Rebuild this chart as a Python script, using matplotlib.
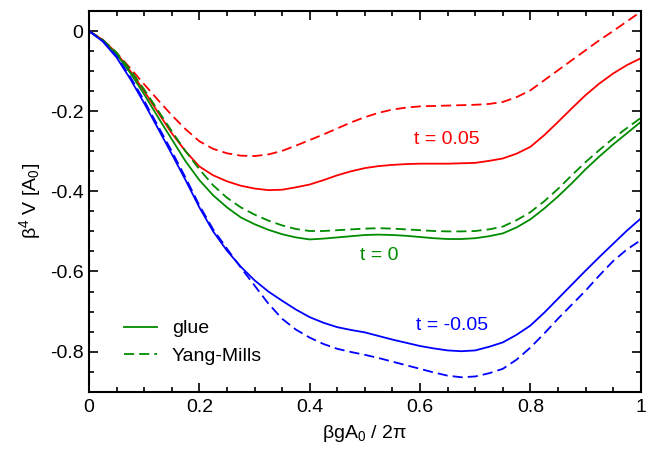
import matplotlib
matplotlib.use('Agg')
import matplotlib.pyplot as plt
from matplotlib.lines import Line2D
from matplotlib.ticker import MultipleLocator

plt.rcParams['font.family'] = ['Liberation Sans', 'DejaVu Sans']
plt.rcParams['mathtext.fontset'] = 'custom'
plt.rcParams['mathtext.rm'] = 'Liberation Sans'
plt.rcParams['mathtext.it'] = 'Liberation Sans:italic'
plt.rcParams['axes.unicode_minus'] = False

# x = beta g A0 / 2pi, read every 0.025
x = [0.0, 0.025, 0.05, 0.075, 0.1, 0.125, 0.15, 0.175, 0.2, 0.225,
     0.25, 0.275, 0.3, 0.325, 0.35, 0.375, 0.4, 0.425, 0.45, 0.475,
     0.5, 0.525, 0.55, 0.575, 0.6, 0.625, 0.65, 0.675, 0.7, 0.725,
     0.75, 0.775, 0.8, 0.825, 0.85, 0.875, 0.9, 0.925, 0.95, 0.975, 1.0]

# t = 0.05
red_glue = [0, -0.022, -0.055, -0.1, -0.15, -0.203, -0.255, -0.3, -0.338, -0.36,
            -0.375, -0.386, -0.393, -0.397, -0.396, -0.39, -0.383, -0.372, -0.36, -0.35,
            -0.342, -0.337, -0.334, -0.332, -0.331, -0.331, -0.331, -0.33, -0.329, -0.324,
            -0.318, -0.306, -0.289, -0.26, -0.227, -0.193, -0.16, -0.131, -0.106, -0.085, -0.068]
red_ym = [0, -0.022, -0.055, -0.093, -0.133, -0.172, -0.21, -0.245, -0.275, -0.294,
          -0.305, -0.311, -0.312, -0.308, -0.299, -0.286, -0.272, -0.258, -0.243, -0.228,
          -0.215, -0.204, -0.196, -0.191, -0.188, -0.187, -0.186, -0.185, -0.184, -0.182,
          -0.177, -0.165, -0.148, -0.123, -0.098, -0.073, -0.048, -0.023, 0.0, 0.024, 0.048]
# t = 0
green_glue = [0, -0.024, -0.058, -0.105, -0.158, -0.215, -0.27, -0.325, -0.372, -0.41,
              -0.44, -0.465, -0.482, -0.496, -0.507, -0.515, -0.52, -0.518, -0.515, -0.512,
              -0.509, -0.508, -0.509, -0.511, -0.514, -0.517, -0.519, -0.519, -0.517, -0.512,
              -0.505, -0.49, -0.47, -0.443, -0.413, -0.38, -0.345, -0.313, -0.283, -0.255, -0.227]
green_ym = [0, -0.022, -0.054, -0.097, -0.146, -0.198, -0.25, -0.3, -0.345, -0.385,
            -0.416, -0.44, -0.458, -0.473, -0.485, -0.494, -0.499, -0.499, -0.497, -0.495,
            -0.493, -0.492, -0.493, -0.495, -0.497, -0.499, -0.5, -0.5, -0.499, -0.495,
            -0.488, -0.472, -0.452, -0.425, -0.394, -0.36, -0.327, -0.297, -0.268, -0.242, -0.217]
# t = -0.05
blue_glue = [0, -0.026, -0.066, -0.12, -0.18, -0.243, -0.307, -0.372, -0.44, -0.5,
             -0.548, -0.588, -0.622, -0.65, -0.673, -0.695, -0.714, -0.728, -0.739, -0.746,
             -0.752, -0.761, -0.77, -0.778, -0.786, -0.792, -0.797, -0.799, -0.797, -0.788,
             -0.777, -0.758, -0.735, -0.703, -0.668, -0.633, -0.598, -0.564, -0.531, -0.498, -0.468]
blue_ym = [0, -0.025, -0.063, -0.115, -0.174, -0.237, -0.3, -0.366, -0.435, -0.495,
           -0.543, -0.59, -0.635, -0.68, -0.718, -0.745, -0.765, -0.781, -0.793, -0.801,
           -0.808, -0.816, -0.825, -0.834, -0.843, -0.852, -0.86, -0.864, -0.862, -0.854,
           -0.843, -0.82, -0.79, -0.755, -0.718, -0.683, -0.648, -0.61, -0.574, -0.545, -0.522]

red = '#ff0000'
green = '#008b00'
blue = '#0000ff'
lw = 1.3
dash = (5.6, 2.8)
fs = 14

fig = plt.figure(figsize=(6.57, 4.51), dpi=100)
ax = fig.add_axes([0.1355, 0.1315, 0.8397, 0.8441])

ax.plot(x, red_glue, color=red, lw=lw)
ax.plot(x, red_ym, color=red, lw=lw, dashes=dash)
ax.plot(x, green_glue, color=green, lw=lw)
ax.plot(x, green_ym, color=green, lw=lw, dashes=dash)
ax.plot(x, blue_glue, color=blue, lw=lw)
ax.plot(x, blue_ym, color=blue, lw=lw, dashes=dash)

ax.text(0.649, -0.27, 't = 0.05', color=red, fontsize=fs, ha='center', va='center')
ax.text(0.526, -0.56, 't = 0', color=green, fontsize=fs, ha='center', va='center')
ax.text(0.658, -0.735, 't = -0.05', color=blue, fontsize=fs, ha='center', va='center')

ax.set_xlim(0, 1)
ax.set_ylim(-0.9, 0.05)
ax.set_xticks([0, 0.2, 0.4, 0.6, 0.8, 1.0])
ax.set_xticklabels(['0', '0.2', '0.4', '0.6', '0.8', '1'])
ax.set_yticks([-0.8, -0.6, -0.4, -0.2, 0])
ax.set_yticklabels(['-0.8', '-0.6', '-0.4', '-0.2', '0'])
ax.xaxis.set_minor_locator(MultipleLocator(0.05))
ax.yaxis.set_minor_locator(MultipleLocator(0.05))
ax.tick_params(which='both', direction='in', top=True, right=True, width=1.2,
               labelsize=fs, colors='black')
ax.tick_params(which='major', length=6.5)
ax.tick_params(which='minor', length=3.4)
ax.tick_params(axis='x', pad=5)
ax.tick_params(axis='y', pad=4)
for s in ax.spines.values():
    s.set_linewidth(1.5)

ax.set_xlabel(r'$\mathrm{\beta gA_0\ /\ 2\pi}$', fontsize=fs, labelpad=5)
ax.set_ylabel(r'$\mathrm{\beta^4\ V\ [A_0]}$', fontsize=fs, labelpad=5)

handles = [Line2D([], [], color=green, lw=lw),
           Line2D([], [], color=green, lw=lw, dashes=dash)]
ax.legend(handles, ['glue', 'Yang-Mills'], loc='lower left', bbox_to_anchor=(0.031, 0.025),
          frameon=False, fontsize=fs, handlelength=1.7, handletextpad=0.77,
          labelspacing=0.5)

fig.savefig('out.png', dpi=100)
